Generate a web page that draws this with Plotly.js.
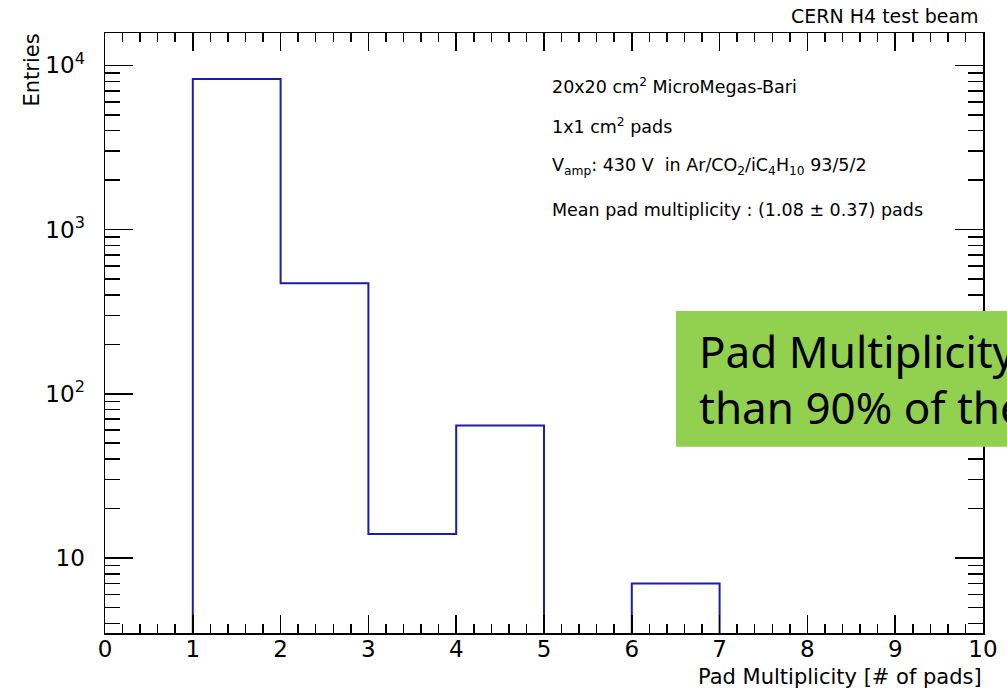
<!DOCTYPE html>
<html>
<head>
<meta charset="utf-8">
<script src="https://cdn.plot.ly/plotly-3.0.1.min.js"></script>
<style>
  html, body { margin: 0; padding: 0; background: #ffffff; overflow: hidden; }
  #chart { width: 1007px; height: 691px; }
</style>
</head>
<body>
<div id="chart"></div>
<script>
// Pad multiplicity histogram (unit-width bins from 0 to 10)
const binEdges = [0, 1, 2, 3, 4, 5, 6, 7, 8, 9, 10];
const entries = [0, 8260, 471, 14, 64, 0, 7, 0, 0, 0];

const xTickVals = [0, 1, 2, 3, 4, 5, 6, 7, 8, 9, 10];
const yTickVals = [10, 100, 1000, 10000];
const yTickText = ['10', '10<sup>2</sup>', '10<sup>3</sup>', '10<sup>4</sup>'];

const infoLines = [
  '20x20 cm<sup>2</sup> MicroMegas-Bari',
  '1x1 cm<sup>2</sup> pads',
  'V<sub>amp</sub>: 430 V\u00a0\u00a0in Ar/CO<sub>2</sub>/iC<sub>4</sub>H<sub>10</sub> 93/5/2',
  'Mean pad multiplicity : (1.08 \u00b1 0.37) pads'
];
const noteLines = [
  'Pad Multiplicity = 1 for more',
  'than 90% of the events'
];

// Empty bins sit far below the log range so the outline drops off the frame
const FLOOR = 1e-2;
const stepY = entries.map(v => (v > 0 ? v : FLOOR));
stepY.push(stepY[stepY.length - 1]);

// Log-axis minor ticks at 2..9 times each decade
const yMinorVals = [];
for (let d = 1; d <= 10000; d *= 10) {
  for (let k = 2; k <= 9; k++) yMinorVals.push(k * d);
}

// Frame geometry in pixels
const W = 1007, H = 691;
const L = 105, R = 24, T = 33, B = 58;
const PW = W - L - R, PH = H - T - B;
const px = x => (x - L) / PW;          // pixel x -> paper x
const py = y => (H - B - y) / PH;      // pixel y -> paper y

const FONT = 'DejaVu Sans, Liberation Sans, sans-serif';

const trace = {
  type: 'scatter',
  mode: 'lines',
  x: binEdges,
  y: stepY,
  line: { shape: 'hv', color: '#1c1ca6', width: 2 },
  hoverinfo: 'skip',
  showlegend: false
};

const infoY = [85.5, 126, 166.5, 210];
const annotations = infoLines.map((t, i) => ({
  text: t, xref: 'paper', yref: 'paper',
  x: px(550), y: py(infoY[i]), xanchor: 'left', yanchor: 'middle',
  showarrow: false, font: { family: FONT, size: 17.5, color: '#000' }
}));

annotations.push({
  text: 'CERN H4 test beam', xref: 'paper', yref: 'paper',
  x: px(981), y: py(16), xanchor: 'right', yanchor: 'middle',
  showarrow: false, font: { family: FONT, size: 19, color: '#000' }
});
annotations.push({
  text: 'Pad Multiplicity [# of pads]', xref: 'paper', yref: 'paper',
  x: px(984), y: py(677), xanchor: 'right', yanchor: 'middle',
  showarrow: false, font: { family: FONT, size: 21, color: '#000' }
});
annotations.push({
  text: 'Entries', xref: 'paper', yref: 'paper', textangle: -90,
  x: px(32), y: py(32), xanchor: 'center', yanchor: 'top',
  showarrow: false, font: { family: FONT, size: 21, color: '#000' }
});

const noteY = [351, 407];
noteLines.forEach((t, i) => annotations.push({
  text: t, xref: 'paper', yref: 'paper',
  x: px(697), y: py(noteY[i]), xanchor: 'left', yanchor: 'middle',
  showarrow: false, font: { family: 'Noto Sans, Open Sans, sans-serif', size: 44, color: '#000' }
}));

const layout = {
  width: W, height: H,
  margin: { l: L, r: R, t: T, b: B, pad: 0 },
  paper_bgcolor: '#ffffff', plot_bgcolor: '#ffffff',
  showlegend: false,
  xaxis: {
    range: [0, 10],
    tickmode: 'array', tickvals: xTickVals,
    ticks: 'inside', ticklen: 18, tickwidth: 1.5, tickcolor: '#000',
    minor: { ticks: 'inside', dtick: 0.2, ticklen: 9, tickwidth: 1.5, tickcolor: '#000', showgrid: false },
    showline: true, linecolor: '#000', linewidth: 1.5, mirror: 'allticks',
    showgrid: false, zeroline: false,
    tickfont: { family: FONT, size: 23, color: '#000' },
    ticklabelstandoff: -5
  },
  yaxis: {
    type: 'log',
    range: [0.543, 4.197],
    tickmode: 'array', tickvals: yTickVals, ticktext: yTickText,
    ticks: 'inside', ticklen: 28, tickwidth: 1.5, tickcolor: '#000',
    minor: { ticks: 'inside', tickmode: 'array', tickvals: yMinorVals, ticklen: 15, tickwidth: 1.5, tickcolor: '#000', showgrid: false },
    showline: true, linecolor: '#000', linewidth: 1.5, mirror: 'allticks',
    showgrid: false, zeroline: false,
    tickfont: { family: FONT, size: 23, color: '#000' },
    ticklabelstandoff: 14
  },
  shapes: [{
    type: 'rect', xref: 'paper', yref: 'paper', layer: 'above',
    x0: px(676), x1: px(1060), y0: py(446.7), y1: py(311),
    fillcolor: '#92d050', line: { width: 0 }
  }],
  annotations: annotations
};

Plotly.newPlot('chart', [trace], layout, { displayModeBar: false, staticPlot: true });
</script>
</body>
</html>
